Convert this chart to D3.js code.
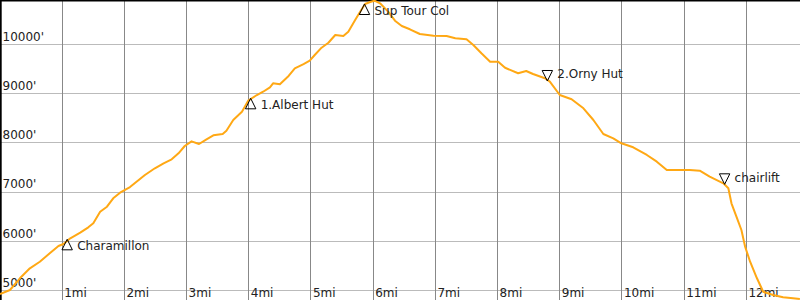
<!DOCTYPE html>
<html>
<head>
<meta charset="utf-8">
<script src="https://cdn.jsdelivr.net/npm/d3@7"></script>
<style>
  body { margin: 0; background: #fff; }
  svg { display: block; font-family: "DejaVu Sans", sans-serif; font-size: 12px; }
  .vgrid { stroke: #888; stroke-width: 1; }
  .hgrid { stroke: #bbb; stroke-width: 1; }
  .border { stroke: #000; stroke-width: 1.7; }
  .profile { fill: none; stroke: #ffa814; stroke-width: 2; stroke-linejoin: round; }
  .lbl { fill: #222; }
  .tri { fill: none; stroke: #000; stroke-width: 1; }
</style>
</head>
<body>
<div class="container"></div>
<script>
const WIDTH = 800;
const HEIGHT = 300;

// distance along the route (mi) and elevation (ft)
var miles = [0.00, 0.16, 0.32, 0.48, 0.64, 0.80, 0.94, 1.02, 1.13, 1.29, 1.42, 1.50, 1.61, 1.72, 1.82, 1.93,
  2.09, 2.33, 2.49, 2.63, 2.76, 2.87, 2.97, 3.08, 3.20, 3.32, 3.43, 3.58, 3.64, 3.75, 3.89, 3.99,
  4.13, 4.23, 4.34, 4.39, 4.50, 4.64, 4.74, 4.88, 4.98, 5.06, 5.17, 5.28, 5.39, 5.52, 5.60, 5.71,
  5.79, 5.87, 5.95, 6.02, 6.11, 6.24, 6.35, 6.46, 6.59, 6.75, 6.97, 7.18, 7.32, 7.50, 7.61, 7.74,
  7.88, 8.01, 8.12, 8.33, 8.46, 8.57, 8.76, 8.84, 9.00, 9.19, 9.38, 9.54, 9.70, 9.86, 9.99, 10.18,
  10.40, 10.56, 10.72, 10.93, 11.09, 11.25, 11.41, 11.63, 11.71, 11.76, 11.84, 11.92, 11.98, 12.06,
  12.17, 12.27, 12.43, 12.59, 12.75, 12.86];
var elevation = [4919, 5000, 5238, 5441, 5575, 5746, 5894, 5935, 6051, 6165, 6274, 6356, 6591, 6693, 6864, 6978,
  7093, 7337, 7474, 7575, 7657, 7778, 7927, 8022, 7967, 8063, 8144, 8171, 8238, 8455, 8624, 8848,
  8963, 9030, 9120, 9201, 9181, 9350, 9506, 9593, 9661, 9776, 9925, 10026, 10183, 10163, 10250, 10488,
  10657, 10813, 10854, 10880, 10827, 10657, 10474, 10366, 10299, 10203, 10169, 10163, 10116, 10096, 9980, 9811,
  9640, 9640, 9518, 9405, 9451, 9390, 9303, 9234, 8963, 8876, 8693, 8455, 8171, 8083, 7982, 7900,
  7744, 7608, 7439, 7439, 7439, 7425, 7303, 7169, 7067, 6762, 6490, 6220, 5880, 5575,
  5238, 4965, 4898, 4852, 4831, 4817];

// waypoints along the route
var markerNames = ["Charamillon", "1.Albert Hut", "Sup Tour Col", "2.Orny Hut", "chairlift"];
var markerMiles = [1.08, 4.03, 5.86, 8.80, 11.65];
var markerElev = [6030, 8896, 10813, 9248, 7148];
var markerUp = [true, true, true, false, false];

// tick values
var mileTicks = [1, 2, 3, 4, 5, 6, 7, 8, 9, 10, 11, 12];
var feetTicks = [5000, 6000, 7000, 8000, 9000, 10000];

var svg, x, y;

var loadChart = function(){
  svg = d3.select(".container").append("svg")
      .attr("width", WIDTH)
      .attr("height", HEIGHT);

  x = d3.scaleLinear().domain([0, 12.862]).range([0, WIDTH]);
  y = d3.scaleLinear().domain([5000, 10000]).range([290, 44]);

  drawGrid();
  drawProfile();
  drawMarkers();
}

var drawGrid = function(){
  svg.selectAll(".hgrid").data(feetTicks).enter().append("line")
      .classed("hgrid", true)
      .attr("x1", 0).attr("x2", WIDTH)
      .attr("y1", d => Math.round(y(d)) + 0.5)
      .attr("y2", d => Math.round(y(d)) + 0.5);

  svg.selectAll(".vgrid").data(mileTicks).enter().append("line")
      .classed("vgrid", true)
      .attr("y1", 0).attr("y2", HEIGHT)
      .attr("x1", d => Math.floor(x(d)) + 0.5)
      .attr("x2", d => Math.floor(x(d)) + 0.5);

  svg.append("line").classed("border", true)
      .attr("x1", 0.85).attr("x2", 0.85).attr("y1", 0).attr("y2", HEIGHT);
  svg.append("line").classed("border", true)
      .attr("x1", 0).attr("x2", WIDTH).attr("y1", 0.75).attr("y2", 0.75);

  svg.selectAll(".ylbl").data(feetTicks).enter().append("text")
      .attr("class", "lbl ylbl")
      .attr("x", 2.5)
      .attr("y", d => y(d) - 3.3)
      .text(d => d + "'");

  svg.selectAll(".xlbl").data(mileTicks).enter().append("text")
      .attr("class", "lbl xlbl")
      .attr("x", d => x(d) + 2)
      .attr("y", 296.5)
      .text(d => d + "mi");
}

var drawProfile = function(){
  var pts = miles.map((m, i) => [m, elevation[i]]);
  var line = d3.line()
      .x(d => x(d[0]))
      .y(d => y(d[1]));
  svg.append("path")
      .datum(pts)
      .classed("profile", true)
      .attr("d", line);
}

var drawMarkers = function(){
  var idx = d3.range(markerNames.length);
  var g = svg.selectAll(".marker").data(idx).enter().append("g")
      .classed("marker", true)
      .attr("transform", i => "translate(" + x(markerMiles[i]) + "," + y(markerElev[i]) + ")");

  g.append("path")
      .classed("tri", true)
      .attr("d", i => markerUp[i]
          ? "M0,0L5.2,10.5L-5.2,10.5Z"
          : "M0,0L5.2,-10.5L-5.2,-10.5Z");

  g.append("text")
      .classed("lbl", true)
      .attr("x", 10)
      .attr("y", i => markerUp[i] ? 10.5 : -2.6)
      .text(i => markerNames[i]);
}

window.onload = loadChart;
</script>
</body>
</html>
